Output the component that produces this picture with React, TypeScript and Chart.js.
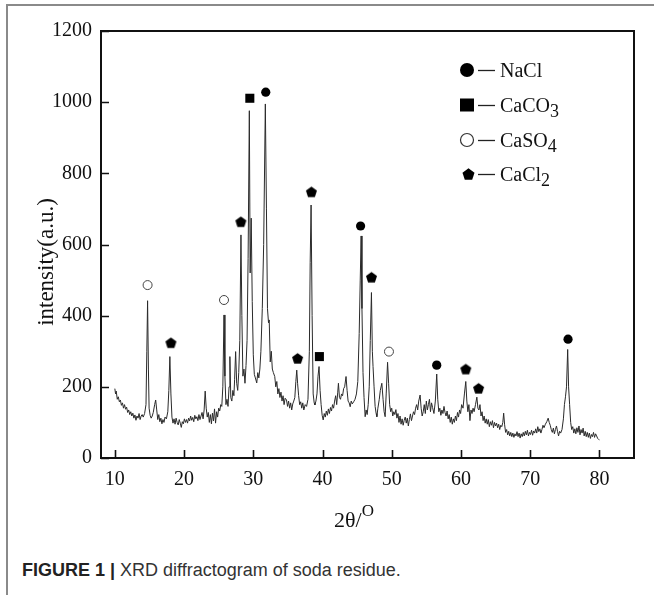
import React, { useEffect, useRef } from "react";
import { Chart, registerables } from "chart.js";

Chart.register(...registerables);

// ---- Data -------------------------------------------------------------
const spectrum: [number, number][] = [
  [10.0, 195], [10.1, 180], [10.2, 188], [10.35, 165], [10.5, 172], [10.65, 158], [10.8, 163], [10.95, 148],
  [11.1, 155], [11.25, 140], [11.4, 150], [11.55, 137], [11.7, 143], [11.85, 128], [12.0, 135], [12.15, 122],
  [12.3, 130], [12.45, 118], [12.6, 126], [12.75, 112], [12.9, 121], [13.05, 106], [13.2, 118], [13.35, 112],
  [13.5, 125], [13.65, 108], [13.8, 118], [13.95, 122], [14.1, 115], [14.3, 125], [14.5, 150], [14.62, 300],
  [14.73, 442], [14.85, 250], [14.95, 140], [15.1, 120], [15.25, 112], [15.4, 118], [15.55, 128], [15.75, 150],
  [15.9, 163], [16.05, 135], [16.2, 108], [16.35, 122], [16.5, 102], [16.65, 112], [16.8, 96], [16.95, 108],
  [17.1, 100], [17.25, 115], [17.45, 110], [17.65, 130], [17.8, 190], [17.95, 285], [18.1, 180], [18.25, 115],
  [18.4, 98], [18.55, 110], [18.7, 95], [18.85, 112], [19.0, 100], [19.15, 93], [19.3, 108], [19.45, 98],
  [19.6, 86], [19.75, 102], [19.9, 96], [20.05, 110], [20.2, 100], [20.35, 108], [20.5, 98], [20.65, 112],
  [20.8, 104], [20.95, 118], [21.1, 106], [21.25, 114], [21.4, 102], [21.55, 120], [21.7, 110], [21.85, 116],
  [22.0, 105], [22.15, 122], [22.3, 108], [22.45, 118], [22.6, 128], [22.75, 110], [22.9, 135], [23.05, 188],
  [23.2, 140], [23.35, 115], [23.5, 128], [23.65, 100], [23.8, 122], [23.95, 96], [24.1, 126], [24.25, 104],
  [24.4, 138], [24.55, 98], [24.7, 130], [24.85, 115], [25.0, 140], [25.15, 132], [25.3, 150], [25.45, 145],
  [25.6, 200], [25.77, 402], [25.9, 230], [26.05, 150], [26.2, 165], [26.35, 145], [26.5, 200], [26.62, 285],
  [26.75, 170], [26.9, 160], [27.05, 190], [27.2, 175], [27.3, 220], [27.45, 299], [27.6, 210], [27.75, 190],
  [27.9, 240], [28.05, 330], [28.22, 627], [28.35, 400], [28.5, 230], [28.65, 250], [28.8, 210], [28.95, 260],
  [29.1, 330], [29.25, 560], [29.43, 976], [29.55, 520], [29.7, 674], [29.85, 440], [30.0, 290], [30.15, 235],
  [30.3, 225], [30.5, 211], [30.65, 240], [30.8, 225], [30.95, 250], [31.1, 300], [31.3, 420], [31.5, 600],
  [31.74, 995], [31.9, 700], [32.05, 420], [32.2, 380], [32.3, 388], [32.45, 270], [32.6, 300], [32.75, 250],
  [32.9, 240], [33.1, 229], [33.25, 200], [33.4, 215], [33.55, 180], [33.7, 195], [33.85, 170], [34.0, 185],
  [34.15, 160], [34.3, 175], [34.45, 150], [34.6, 168], [34.8, 163], [34.95, 145], [35.1, 160], [35.25, 140],
  [35.4, 155], [35.55, 135], [35.7, 152], [35.85, 160], [36.0, 170], [36.15, 215], [36.28, 247], [36.4, 210],
  [36.55, 175], [36.7, 150], [36.85, 158], [37.0, 140], [37.15, 155], [37.3, 135], [37.5, 150], [37.7, 145],
  [37.9, 165], [38.1, 300], [38.22, 550], [38.35, 711], [38.5, 400], [38.65, 180], [38.8, 155], [38.9, 149],
  [39.05, 160], [39.2, 180], [39.35, 230], [39.5, 257], [39.65, 190], [39.8, 150], [39.95, 120], [40.1, 107],
  [40.25, 125], [40.4, 115], [40.55, 132], [40.7, 120], [40.85, 138], [41.0, 125], [41.15, 142], [41.3, 132],
  [41.45, 150], [41.6, 140], [41.75, 160], [41.9, 175], [42.05, 150], [42.2, 185], [42.3, 210], [42.45, 170],
  [42.6, 165], [42.75, 180], [42.9, 175], [43.05, 195], [43.2, 200], [43.4, 229], [43.55, 190], [43.7, 160],
  [43.85, 155], [44.0, 144], [44.15, 160], [44.3, 152], [44.5, 158], [44.7, 165], [44.9, 180], [45.1, 215],
  [45.3, 350], [45.45, 500], [45.58, 624], [45.7, 420], [45.85, 240], [46.0, 170], [46.16, 116], [46.3, 135],
  [46.45, 122], [46.6, 150], [46.75, 200], [46.9, 330], [47.07, 465], [47.2, 300], [47.3, 257], [47.45, 200],
  [47.6, 145], [47.75, 125], [47.85, 116], [48.0, 140], [48.2, 165], [48.35, 190], [48.57, 210], [48.75, 165],
  [48.9, 130], [49.05, 116], [49.2, 180], [49.4, 269], [49.55, 210], [49.7, 150], [49.85, 130], [50.0, 140],
  [50.15, 118], [50.3, 130], [50.45, 122], [50.6, 136], [50.75, 112], [50.9, 125], [51.05, 100], [51.2, 118],
  [51.35, 95], [51.5, 110], [51.65, 92], [51.8, 106], [51.95, 115], [52.1, 98], [52.25, 112], [52.4, 90],
  [52.55, 108], [52.7, 124], [52.85, 105], [53.0, 118], [53.15, 130], [53.3, 122], [53.45, 140], [53.6, 150],
  [53.75, 135], [53.9, 160], [54.1, 177], [54.25, 140], [54.4, 118], [54.55, 130], [54.7, 150], [54.85, 125],
  [55.0, 160], [55.15, 135], [55.3, 150], [55.45, 165], [55.6, 130], [55.75, 155], [55.9, 142], [56.1, 125],
  [56.3, 160], [56.5, 236], [56.65, 165], [56.8, 130], [56.95, 140], [57.1, 120], [57.25, 135], [57.4, 125],
  [57.55, 145], [57.7, 128], [57.85, 118], [58.0, 132], [58.15, 110], [58.3, 122], [58.45, 100], [58.6, 115],
  [58.75, 95], [58.9, 110], [59.05, 100], [59.2, 118], [59.35, 105], [59.5, 128], [59.65, 115], [59.8, 135],
  [59.95, 125], [60.1, 150], [60.3, 140], [60.5, 180], [60.7, 215], [60.85, 160], [61.0, 130], [61.15, 150],
  [61.3, 105], [61.45, 135], [61.6, 125], [61.75, 140], [61.9, 130], [62.1, 150], [62.3, 171], [62.45, 140],
  [62.6, 135], [62.75, 150], [62.9, 118], [63.05, 130], [63.2, 105], [63.35, 118], [63.5, 98], [63.65, 110],
  [63.8, 95], [63.95, 108], [64.1, 88], [64.25, 102], [64.4, 92], [64.55, 105], [64.7, 85], [64.85, 100],
  [65.0, 90], [65.15, 98], [65.3, 85], [65.45, 95], [65.6, 80], [65.75, 92], [65.9, 88], [66.05, 100],
  [66.17, 126], [66.3, 95], [66.45, 72], [66.6, 80], [66.75, 65], [66.9, 75], [67.05, 62], [67.2, 72],
  [67.35, 60], [67.5, 70], [67.65, 58], [67.8, 68], [67.95, 62], [68.1, 74], [68.25, 60], [68.4, 70],
  [68.55, 56], [68.7, 68], [68.85, 60], [69.0, 72], [69.15, 62], [69.3, 75], [69.45, 65], [69.6, 78],
  [69.75, 62], [69.9, 72], [70.05, 66], [70.2, 78], [70.35, 64], [70.5, 76], [70.65, 70], [70.8, 82],
  [70.95, 70], [71.1, 88], [71.25, 74], [71.4, 82], [71.55, 70], [71.7, 80], [71.85, 92], [72.0, 85],
  [72.2, 95], [72.4, 102], [72.6, 112], [72.75, 100], [72.9, 92], [73.05, 80], [73.2, 72], [73.35, 84],
  [73.5, 68], [73.65, 80], [73.8, 90], [73.95, 75], [74.1, 62], [74.25, 75], [74.4, 70], [74.6, 80],
  [74.8, 110], [74.95, 150], [75.1, 172], [75.25, 200], [75.42, 305], [75.55, 200], [75.7, 150], [75.85, 100],
  [76.0, 80], [76.15, 88], [76.3, 70], [76.45, 82], [76.6, 68], [76.75, 85], [76.9, 72], [77.05, 90],
  [77.2, 65], [77.35, 80], [77.5, 70], [77.65, 84], [77.8, 62], [77.95, 75], [78.1, 60], [78.25, 72],
  [78.4, 58], [78.55, 70], [78.7, 55], [78.85, 66], [79.0, 60], [79.15, 72], [79.3, 58], [79.45, 68],
  [79.6, 62], [79.75, 55], [79.9, 52], [80.0, 51],
];

const naclTheta = [31.8, 45.5, 56.5, 75.47];
const naclI = [1028, 652, 261, 334];
const caco3Theta = [29.5, 39.55];
const caco3I = [1011, 285];
const caso4Theta = [14.73, 25.77, 49.6];
const caso4I = [486, 444, 299];
const cacl2Theta = [18.1, 28.2, 36.4, 38.4, 47.07, 60.7, 62.55];
const cacl2I = [324, 664, 280, 748, 508, 250, 196];

const legendNames: [string, string][] = [
  ["NaCl", ""],
  ["CaCO", "3"],
  ["CaSO", "4"],
  ["CaCl", "2"],
];

const xTicks = [10, 20, 30, 40, 50, 60, 70, 80];
const yTicks = [0, 200, 400, 600, 800, 1000, 1200];

const xTitle = "2θ/";
const xTitleSup = "O";
const yTitle = "intensity(a.u.)";

const SERIF = '"Liberation Serif", "Times New Roman", Times, serif';

// ---- Helpers ----------------------------------------------------------
function makePentagon(width: number): HTMLCanvasElement {
  const r = width / 1.902;
  const c = document.createElement("canvas");
  c.width = Math.ceil(width) + 2;
  c.height = Math.ceil(width) + 2;
  const g = c.getContext("2d")!;
  const cx = c.width / 2;
  const cy = c.height / 2 + r * 0.1;
  g.beginPath();
  for (let i = 0; i < 5; i++) {
    const ang = -Math.PI / 2 + (i * 2 * Math.PI) / 5;
    const px = cx + r * Math.cos(ang);
    const py = cy + r * Math.sin(ang);
    if (i === 0) g.moveTo(px, py);
    else g.lineTo(px, py);
  }
  g.closePath();
  g.fillStyle = "#000";
  g.fill();
  return c;
}

function drawPentagon(ctx: CanvasRenderingContext2D, cx: number, cy: number, width: number) {
  const r = width / 1.902;
  ctx.beginPath();
  for (let i = 0; i < 5; i++) {
    const ang = -Math.PI / 2 + (i * 2 * Math.PI) / 5;
    const px = cx + r * Math.cos(ang);
    const py = cy + r * 0.1 + r * Math.sin(ang);
    if (i === 0) ctx.moveTo(px, py);
    else ctx.lineTo(px, py);
  }
  ctx.closePath();
  ctx.fill();
}

const decorPlugin = {
  id: "decor",
  afterDraw(chart: any) {
    const { ctx, chartArea: a, scales } = chart;
    ctx.save();
    // frame
    ctx.strokeStyle = "#111";
    ctx.lineWidth = 2;
    ctx.strokeRect(a.left, a.top, a.right - a.left, a.bottom - a.top);
    // inside ticks
    ctx.lineWidth = 1.6;
    ctx.beginPath();
    for (const v of xTicks) {
      const px = Math.round(scales.x.getPixelForValue(v)) + 0.5;
      ctx.moveTo(px, a.bottom);
      ctx.lineTo(px, a.bottom - 8);
    }
    for (const v of yTicks) {
      const py = Math.round(scales.y.getPixelForValue(v)) + 0.5;
      ctx.moveTo(a.left, py);
      ctx.lineTo(a.left + 8, py);
    }
    ctx.stroke();

    // y title
    ctx.fillStyle = "#111";
    ctx.save();
    ctx.translate(a.left - 48, a.top + 231);
    ctx.rotate(-Math.PI / 2);
    ctx.font = `23px ${SERIF}`;
    ctx.textAlign = "center";
    ctx.textBaseline = "alphabetic";
    ctx.fillText(yTitle, 0, 0);
    ctx.restore();

    // x title
    ctx.font = `22px ${SERIF}`;
    ctx.textAlign = "left";
    ctx.textBaseline = "alphabetic";
    const tx = a.left + 233;
    const ty = a.bottom + 69;
    ctx.fillText(xTitle, tx, ty);
    const w = ctx.measureText(xTitle).width;
    ctx.font = `17px ${SERIF}`;
    ctx.fillText(xTitleSup, tx + w, ty - 11);

    // legend
    const mx = a.left + 366;
    const rows = [a.top + 39, a.top + 74, a.top + 109, a.top + 143];
    legendNames.forEach(([name, sub], i) => {
      const cy = rows[i];
      ctx.fillStyle = "#000";
      ctx.strokeStyle = "#000";
      if (i === 0) {
        ctx.beginPath();
        ctx.arc(mx, cy, 7, 0, Math.PI * 2);
        ctx.fill();
      } else if (i === 1) {
        ctx.fillRect(mx - 7, cy - 6.5, 14, 13);
      } else if (i === 2) {
        ctx.lineWidth = 1.2;
        ctx.strokeStyle = "#333";
        ctx.beginPath();
        ctx.arc(mx, cy, 6.5, 0, Math.PI * 2);
        ctx.stroke();
      } else {
        drawPentagon(ctx, mx + 1.5, cy, 12);
      }
      ctx.strokeStyle = "#222";
      ctx.lineWidth = 1.3;
      ctx.beginPath();
      ctx.moveTo(mx + 11, cy + 0.5);
      ctx.lineTo(mx + 28, cy + 0.5);
      ctx.stroke();
      ctx.fillStyle = "#111";
      ctx.font = `20px ${SERIF}`;
      ctx.textAlign = "left";
      ctx.textBaseline = "alphabetic";
      const lx = mx + 33;
      ctx.fillText(name, lx, cy + 7);
      if (sub) {
        const nw = ctx.measureText(name).width;
        ctx.font = `18px ${SERIF}`;
        ctx.fillText(sub, lx + nw, cy + 12);
      }
    });
    ctx.restore();
  },
};

function toPoints(xs: number[], ys: number[]) {
  return xs.map((x, i) => ({ x, y: ys[i] }));
}

export default function App() {
  const ref = useRef<HTMLCanvasElement | null>(null);

  useEffect(() => {
    document.body.style.margin = "0";
    if (!ref.current) return;
    const pent = makePentagon(11);
    const tickFont = { family: SERIF, size: 20 };
    const chart = new Chart(ref.current, {
      type: "scatter",
      data: {
        datasets: [
          {
            label: "XRD",
            data: spectrum.map(([x, y]) => ({ x, y })),
            showLine: true,
            borderColor: "#2a2a2a",
            borderWidth: 1,
            pointRadius: 0,
            tension: 0,
          },
          {
            label: "NaCl",
            data: toPoints(naclTheta, naclI),
            pointStyle: "circle",
            pointRadius: 4.6,
            backgroundColor: "#000",
            borderColor: "#000",
            borderWidth: 0,
          },
          {
            label: "CaCO3",
            data: toPoints(caco3Theta, caco3I),
            pointStyle: "rect",
            pointRadius: 6.4,
            backgroundColor: "#000",
            borderColor: "#000",
            borderWidth: 0,
          },
          {
            label: "CaSO4",
            data: toPoints(caso4Theta, caso4I),
            pointStyle: "circle",
            pointRadius: 4.5,
            backgroundColor: "#fff",
            borderColor: "#444",
            borderWidth: 1,
          },
          {
            label: "CaCl2",
            data: toPoints(cacl2Theta, cacl2I),
            pointStyle: pent as any,
            pointRadius: 5,
            backgroundColor: "#000",
            borderColor: "#000",
          },
        ],
      },
      options: {
        animation: false,
        responsive: false,
        devicePixelRatio: 1,
        layout: { padding: { left: 0, top: 31, right: 20, bottom: 0 } },
        plugins: { legend: { display: false }, tooltip: { enabled: false } },
        scales: {
          x: {
            type: "linear",
            min: 8,
            max: 85,
            grid: { display: false, drawTicks: false },
            border: { display: false },
            afterBuildTicks: (s: any) => {
              s.ticks = xTicks.map((v) => ({ value: v }));
            },
            afterFit: (s: any) => {
              s.height = 82;
            },
            ticks: {
              padding: 10,
              color: "#111",
              font: tickFont,
              maxRotation: 0,
              autoSkip: false,
              callback: (v: any) => String(v),
            },
          },
          y: {
            type: "linear",
            min: 0,
            max: 1200,
            grid: { display: false, drawTicks: false },
            border: { display: false },
            afterBuildTicks: (s: any) => {
              s.ticks = yTicks.map((v) => ({ value: v }));
            },
            afterFit: (s: any) => {
              s.width = 101;
            },
            ticks: {
              padding: 9,
              color: "#111",
              font: tickFont,
              autoSkip: false,
              callback: (v: any) => String(v),
            },
          },
        },
      },
      plugins: [decorPlugin],
    });
    return () => chart.destroy();
  }, []);

  return (
    <div style={{ position: "absolute", left: 0, top: 0, width: 654, height: 595, background: "#fff", overflow: "hidden" }}>
      <div
        style={{
          position: "absolute",
          left: 6,
          top: 4,
          width: 660,
          height: 600,
          borderTop: "2px solid #8a8a8a",
          borderLeft: "2px solid #8a8a8a",
        }}
      />
      <canvas ref={ref} width={654} height={540} style={{ position: "absolute", left: 0, top: 0, width: 654, height: 540 }} />
      <div
        style={{
          position: "absolute",
          left: 22,
          top: 560,
          fontFamily: '"Liberation Sans", Arial, Helvetica, sans-serif',
          fontSize: 18,
          lineHeight: "20px",
          color: "#333",
          whiteSpace: "nowrap",
        }}
      >
        <b style={{ color: "#222" }}>FIGURE 1 |</b> XRD diffractogram of soda residue.
      </div>
    </div>
  );
}
